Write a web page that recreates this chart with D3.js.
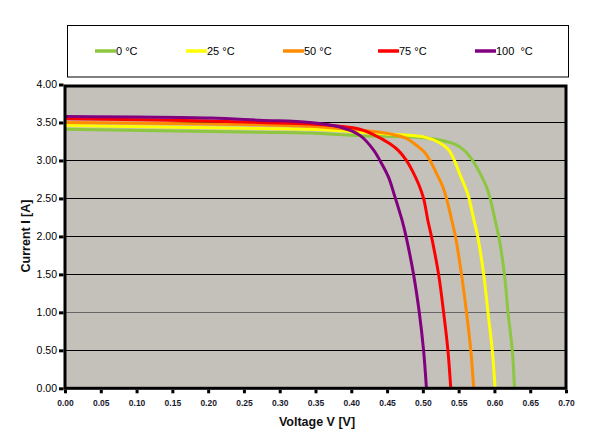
<!DOCTYPE html>
<html><head><meta charset="utf-8">
<script src="https://cdn.jsdelivr.net/npm/d3@7"></script>
<style>body{margin:0;background:#fff}svg{display:block}text{font-family:"Liberation Sans",Arial,sans-serif}</style>
</head><body>
<svg id="c" width="607" height="441"></svg>
<script>
const seriesNames = ["0 °C", "25 °C", "50 °C", "75 °C", "100  °C"];
const seriesColors = ["#8dc63f", "#ffff00", "#ff8c00", "#ff0000", "#800080"];
const xTicks = [0,0.05,0.10,0.15,0.20,0.25,0.30,0.35,0.40,0.45,0.50,0.55,0.60,0.65,0.70];
const yTicks = [0,0.5,1,1.5,2,2.5,3,3.5,4];
// [voltage, current]
const curve0 = [[0,3.41],[0.203,3.38],[0.272,3.37],[0.342,3.36],[0.384,3.34],[0.412,3.325],[0.501,3.30],[0.524,3.27],[0.543,3.22],[0.557,3.14],[0.568,3.02],[0.580,2.83],[0.589,2.65],[0.594,2.50],[0.601,2.21],[0.606,2.0],[0.614,1.5],[0.619,1.0],[0.625,0.5],[0.628,0]];
const curve25 = [[0,3.46],[0.203,3.43],[0.272,3.42],[0.342,3.41],[0.384,3.39],[0.412,3.37],[0.454,3.345],[0.501,3.31],[0.524,3.23],[0.536,3.14],[0.544,3.00],[0.552,2.81],[0.560,2.63],[0.5645,2.50],[0.5715,2.21],[0.5766,2.0],[0.585,1.5],[0.591,1.0],[0.597,0.5],[0.601,0]];
const curve50 = [[0,3.50],[0.203,3.48],[0.272,3.47],[0.342,3.45],[0.384,3.42],[0.412,3.40],[0.431,3.38],[0.454,3.35],[0.477,3.29],[0.491,3.20],[0.502,3.11],[0.510,3.00],[0.519,2.83],[0.528,2.65],[0.533,2.50],[0.5405,2.21],[0.5455,2.0],[0.554,1.5],[0.561,1.0],[0.567,0.5],[0.571,0]];
const curve75 = [[0,3.55],[0.203,3.52],[0.272,3.50],[0.342,3.48],[0.384,3.45],[0.412,3.41],[0.431,3.34],[0.454,3.22],[0.466,3.13],[0.477,3.00],[0.485,2.87],[0.494,2.69],[0.501,2.50],[0.507,2.21],[0.512,2.0],[0.522,1.5],[0.529,1.0],[0.535,0.5],[0.539,0]];
const curve100 = [[0,3.58],[0.203,3.56],[0.272,3.53],[0.342,3.50],[0.384,3.44],[0.412,3.33],[0.431,3.14],[0.440,3.00],[0.452,2.78],[0.461,2.52],[0.471,2.21],[0.4765,2.0],[0.487,1.5],[0.495,1.0],[0.501,0.5],[0.505,0]];
const curves = [curve0, curve25, curve50, curve75, curve100];

const svg = d3.select("#c");
const L = 65, R = 566, T = 84.5, B = 388.3;
const x = d3.scaleLinear().domain([0, 0.7]).range([L, R]);
const y = d3.scaleLinear().domain([0, 4]).range([B, T]);

// plot background
svg.append("rect").attr("x", L).attr("y", 86).attr("width", R - L).attr("height", B - 86).attr("fill", "#c4c1ba");

// gridlines
svg.append("g").selectAll("line").data(yTicks.filter(d => d > 0 && d < 4)).join("line")
  .attr("x1", L).attr("x2", R).attr("y1", d => Math.round(y(d)) + 0.5).attr("y2", d => Math.round(y(d)) + 0.5)
  .attr("stroke", d => d === 1 ? "#666" : "#000").attr("stroke-width", 1);

// curves
const line = d3.line().x(d => x(d[0])).y(d => y(d[1])).curve(d3.curveCatmullRom.alpha(0.5));
svg.append("clipPath").attr("id", "pc").append("rect").attr("x", L).attr("y", 86).attr("width", R - L).attr("height", B - 86);
svg.append("g").attr("clip-path", "url(#pc)").selectAll("path").data(curves).join("path")
  .attr("d", line).attr("fill", "none").attr("stroke", (d, i) => seriesColors[i]).attr("stroke-width", 3);

// frame
svg.append("rect").attr("x", L).attr("y", 86).attr("width", R - L).attr("height", B - 86)
  .attr("fill", "none").attr("stroke", "#000").attr("stroke-width", 3);

// y axis
const yAxis = d3.axisLeft(y).tickValues(yTicks).tickFormat(d3.format(".2f")).tickSize(6).tickPadding(2);
const gy = svg.append("g").attr("transform", `translate(${L},0)`).call(yAxis);
gy.select(".domain").remove();
gy.selectAll(".tick line").attr("stroke", "#000").attr("stroke-width", 3).attr("x1", -1.5);
gy.selectAll(".tick text").attr("font-size", "10.5px").attr("fill", "#000").attr("font-family", "Liberation Sans, Arial, sans-serif");

// x axis
const xAxis = d3.axisBottom(x).tickValues(xTicks).tickFormat(d3.format(".2f")).tickSize(5).tickPadding(7);
const gx = svg.append("g").attr("transform", `translate(0,${B})`).call(xAxis);
gx.select(".domain").remove();
gx.selectAll(".tick line").attr("stroke", "#000").attr("stroke-width", 3).attr("y1", 1.5);
gx.selectAll(".tick text").attr("font-size", "8.5px").attr("font-weight", "bold").attr("fill", "#1a1a2e").attr("font-family", "Liberation Sans, Arial, sans-serif");

// axis titles
svg.append("text").attr("x", 317).attr("y", 426).attr("text-anchor", "middle")
  .attr("font-size", "12.5px").attr("font-weight", "bold").attr("fill", "#111").text("Voltage V [V]");
svg.append("text").attr("transform", "translate(30,236) rotate(-90)").attr("text-anchor", "middle")
  .attr("font-size", "12.5px").attr("font-weight", "bold").attr("fill", "#111").text("Current I [A]");

// legend
svg.append("rect").attr("x", 67.5).attr("y", 25.5).attr("width", 501).attr("height", 51.5)
  .attr("fill", "#fff").attr("stroke", "#000").attr("stroke-width", 1);
const legX = [95, 186, 283, 378, 475];
const lg = svg.append("g").selectAll("g").data(seriesNames).join("g")
  .attr("transform", (d, i) => `translate(${legX[i]},51)`);
lg.append("line").attr("x1", 0).attr("x2", 21).attr("y1", 0).attr("y2", 0)
  .attr("stroke", (d, i) => seriesColors[i]).attr("stroke-width", 3.5);
lg.append("text").attr("x", 21).attr("y", 4).attr("font-size", "11px").attr("fill", "#000")
  .style("white-space", "pre").text(d => d);
</script>
</body></html>
